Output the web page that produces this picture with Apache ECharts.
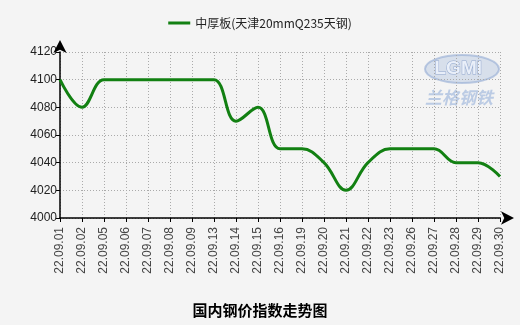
<!DOCTYPE html>
<html><head><meta charset="utf-8">
<script src="https://cdn.jsdelivr.net/npm/echarts@6/dist/echarts.min.js"></script>
<style>html,body{margin:0;padding:0;background:#f4f4f4}#c{width:520px;height:325px}</style>
</head><body><div id="c"></div>
<script>
const categories = ['22.09.01','22.09.02','22.09.05','22.09.06','22.09.07','22.09.08','22.09.09','22.09.13','22.09.14','22.09.15','22.09.16','22.09.19','22.09.20','22.09.21','22.09.22','22.09.23','22.09.26','22.09.27','22.09.28','22.09.29','22.09.30'];
const seriesName = '中厚板(天津20mmQ235天钢)';
const values = [4100,4080,4100,4100,4100,4100,4100,4100,4070,4080,4050,4050,4040,4020,4040,4050,4050,4050,4040,4040,4030];
const yTicks = {min:4000, max:4120, interval:20};
const chartTitle = '国内钢价指数走势图';

const chart = echarts.init(document.getElementById('c'), null, {renderer:'canvas'});
chart.setOption({
  backgroundColor:'#f4f4f4',
  animation:false,
  title:{text:chartTitle, left:'center', top:298, textStyle:{fontSize:15, fontWeight:'bold', color:'#000', fontFamily:'Noto Sans CJK SC'}},
  legend:{top:12, left:'center', itemWidth:22, itemHeight:3, icon:'rect', textStyle:{fontSize:12, color:'#222', fontFamily:'Noto Sans CJK SC'}, data:[seriesName]},
  grid:{left:60, right:20, top:52, height:166},
  graphic:[
    {type:'ellipse', shape:{cx:462, cy:69, rx:37, ry:14}, style:{fill:'rgba(150,175,215,0.3)', stroke:'rgba(140,165,210,0.55)', lineWidth:2}},
    {type:'text', left:434, top:59, style:{text:'LGMI', fontSize:19, fontWeight:'bold', fill:'rgba(235,240,250,0.95)', stroke:'rgba(130,155,200,0.8)', lineWidth:1, fontFamily:'Liberation Sans'}},
    {type:'text', left:425, top:89, style:{text:'兰格钢铁', fontSize:17, fontStyle:'italic', fill:'rgba(140,170,215,0.55)', fontFamily:'Noto Sans CJK SC', fontWeight:'bold'}}
  ],
  xAxis:{type:'category', data:categories, boundaryGap:false,
    axisLine:{lineStyle:{color:'#000', width:1.5}, symbol:['none','arrow'], symbolSize:[10,13], symbolOffset:[0,14]},
    axisTick:{show:true, length:4, lineStyle:{color:'#000'}},
    axisLabel:{rotate:90, fontSize:12, color:'#444', margin:9, fontFamily:'Liberation Sans'},
    splitLine:{show:true, lineStyle:{color:'#aaa', type:[1,2], width:1}}},
  yAxis:{type:'value', min:yTicks.min, max:yTicks.max, interval:yTicks.interval,
    axisLine:{show:true, lineStyle:{color:'#000', width:1.5}, symbol:['none','arrow'], symbolSize:[10,13], symbolOffset:[0,12]},
    axisTick:{show:true, length:4, lineStyle:{color:'#000'}},
    axisLabel:{fontSize:12, color:'#222', margin:3, fontFamily:'Liberation Sans', formatter:v=>String(v)},
    splitLine:{show:true, lineStyle:{color:'#aaa', type:[1,2], width:1}}},
  series:[{name:seriesName, type:'line', data:values, smooth:0.4, showSymbol:false, symbol:'none',
    lineStyle:{color:'#128012', width:3}, itemStyle:{color:'#128012'}}]
});
</script></body></html>
